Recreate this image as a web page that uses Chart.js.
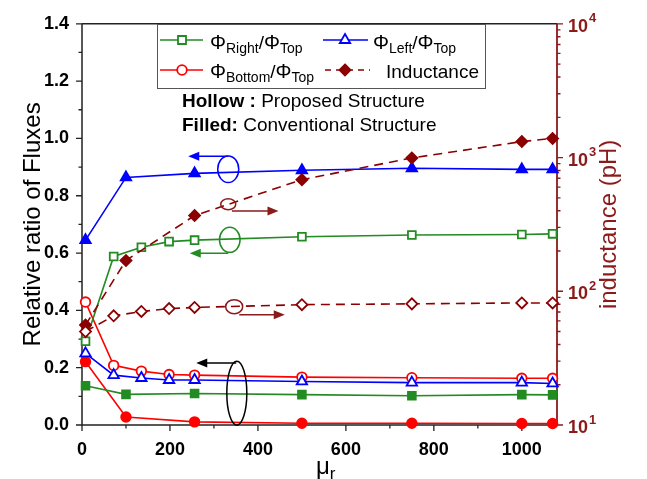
<!DOCTYPE html>
<html><head><meta charset="utf-8">
<script src="https://cdn.jsdelivr.net/npm/chart.js@4/dist/chart.umd.min.js"></script>
<style>html,body{margin:0;padding:0;background:#fff}#wrap{width:647px;height:479px}</style>
</head><body><div id="wrap"><canvas id="c" width="647" height="479"></canvas></div>
<script>
// ---- data ----
const muHollow = [8, 72, 135, 198, 256, 500, 750, 1000, 1070];
const muFilled = [8, 100, 256, 500, 750, 1000, 1070];
const rightTopHollow  = [0.292, 0.588, 0.620, 0.640, 0.645, 0.657, 0.663, 0.665, 0.667];
const leftTopHollow   = [0.250, 0.174, 0.164, 0.157, 0.157, 0.152, 0.148, 0.148, 0.145];
const bottomTopHollow = [0.429, 0.208, 0.188, 0.176, 0.174, 0.167, 0.165, 0.163, 0.163];
const inductanceHollow = [50, 65.5, 70.6, 74.2, 75.7, 79.4, 80.5, 81.8, 81.8];
const rightTopFilled  = [0.137, 0.107, 0.110, 0.106, 0.102, 0.106, 0.105];
const leftTopFilled   = [0.645, 0.864, 0.878, 0.889, 0.896, 0.892, 0.892];
const bottomTopFilled = [0.221, 0.028, 0.011, 0.006, 0.006, 0.005, 0.005];
const inductanceFilled = [56, 170, 368, 683, 993, 1316, 1390];
// ticks
const xTicks = [0, 200, 400, 600, 800, 1000];
const xMinor = [100, 300, 500, 700, 900];
const yTicks = [0, 0.2, 0.4, 0.6, 0.8, 1.0, 1.2, 1.4];
const yMinor = [0.1, 0.3, 0.5, 0.7, 0.9, 1.1, 1.3];
const y2Exponents = [1, 2, 3, 4];
const y2Minor = [20,30,40,50,60,70,80,90,200,300,400,500,600,700,800,900,2000,3000,4000,5000,6000,7000,8000,9000];

const GREEN = '#228B22', BLUE = '#0000FF', RED = '#FF0000', DRED = '#8B0000', AXRED = '#8B1A1A';
const FONT = "'Liberation Sans', Arial, sans-serif";

const pts = (xs, ys) => xs.map((x, i) => ({x, y: ys[i]}));
function ds(label, xs, ys, color, style, hollow, axis, dashed, r) {
  return {
    label, data: pts(xs, ys), yAxisID: axis, showLine: true,
    borderColor: color, backgroundColor: color, borderWidth: 1.6,
    borderDash: dashed ? [9, 6] : [],
    pointStyle: style, pointRadius: r, pointBorderWidth: 1.8,
    pointBorderColor: color, pointBackgroundColor: hollow ? '#fff' : color,
    clip: false, tension: 0
  };
}

const datasets = [
  ds('Inductance hollow', muHollow, inductanceHollow, DRED, 'rectRot', true, 'y2', true, 5.5),
  ds('Inductance filled', muFilled, inductanceFilled, DRED, 'rectRot', false, 'y2', true, 5.5),
  ds('Right/Top hollow', muHollow, rightTopHollow, GREEN, 'rect', true, 'y', false, 5.5),
  ds('Right/Top filled', muFilled, rightTopFilled, GREEN, 'rect', false, 'y', false, 5.5),
  ds('Left/Top hollow', muHollow, leftTopHollow, BLUE, 'triangle', true, 'y', false, 6),
  ds('Left/Top filled', muFilled, leftTopFilled, BLUE, 'triangle', false, 'y', false, 6),
  ds('Bottom/Top hollow', muHollow, bottomTopHollow, RED, 'circle', true, 'y', false, 4.8),
  ds('Bottom/Top filled', muFilled, bottomTopFilled, RED, 'circle', false, 'y', false, 4.8),
];

function arrow(ctx, x1, y, x2, color) {
  const dir = Math.sign(x2 - x1), hl = 11, hw = 4.5;
  ctx.strokeStyle = color; ctx.fillStyle = color; ctx.lineWidth = 1.5; ctx.setLineDash([]);
  ctx.beginPath(); ctx.moveTo(x1, y); ctx.lineTo(x2 - dir * hl * 0.6, y); ctx.stroke();
  ctx.beginPath(); ctx.moveTo(x2, y); ctx.lineTo(x2 - dir * hl, y - hw); ctx.lineTo(x2 - dir * hl, y + hw); ctx.closePath(); ctx.fill();
}
function ellipse(ctx, cx, cy, rx, ry, color) {
  ctx.strokeStyle = color; ctx.lineWidth = 1.5; ctx.setLineDash([]);
  ctx.beginPath(); ctx.ellipse(cx, cy, rx, ry, 0, 0, Math.PI * 2); ctx.stroke();
}
function rich(ctx, x, y, parts) {
  for (const [t, f, dy] of parts) { ctx.font = f; ctx.fillText(t, x, y + dy); x += ctx.measureText(t).width; }
}
function marker(ctx, style, x, y, color, hollow) {
  ctx.save(); ctx.setLineDash([]); ctx.lineWidth = 1.8; ctx.strokeStyle = color; ctx.fillStyle = hollow ? '#fff' : color;
  ctx.beginPath();
  if (style === 'rect') { ctx.rect(x - 4, y - 4, 8, 8); }
  else if (style === 'circle') { ctx.arc(x, y, 4.8, 0, Math.PI * 2); }
  else if (style === 'triangle') { ctx.moveTo(x, y - 6); ctx.lineTo(x + 5.2, y + 3); ctx.lineTo(x - 5.2, y + 3); ctx.closePath(); }
  else if (style === 'rectRot') { ctx.moveTo(x, y - 5.5); ctx.lineTo(x + 5.5, y); ctx.lineTo(x, y + 5.5); ctx.lineTo(x - 5.5, y); ctx.closePath(); }
  ctx.fill(); ctx.stroke(); ctx.restore();
}

// annotation callouts in data units (x: mu_r, y: left-axis ratio)
const callouts = [
  {c: BLUE,  ex: 332.5, ey: 0.8925, rx: 10.5, ry: 13.3, a1: 332.5, a2: 241.6, ay: 0.938},
  {c: AXRED, ex: 332.5, ey: 0.770,  rx: 7.5,  ry: 5.5,  a1: 340.9, a2: 446.8, ay: 0.747},
  {c: GREEN, ex: 336,   ey: 0.646,  rx: 10.3, ry: 12.5, a1: 332.5, a2: 245,   ay: 0.599},
  {c: AXRED, ex: 346,   ey: 0.413,  rx: 8.5,  ry: 7,    a1: 357.5, a2: 461,   ay: 0.385},
  {c: '#000', ex: 352,  ey: 0.111,  rx: 10,   ry: 32,   a1: 350.7, a2: 259.8, ay: 0.216},
];

const frame = {
  id: 'frame',
  beforeDatasetsDraw(chart) {
    const {ctx, chartArea: ca, scales: {x, y, y2}} = chart;
    ctx.save();
    ctx.lineWidth = 1.5; ctx.strokeStyle = '#222';
    ctx.beginPath();
    ctx.moveTo(ca.left, ca.top); ctx.lineTo(ca.right, ca.top);
    ctx.moveTo(ca.left, ca.top); ctx.lineTo(ca.left, ca.bottom); ctx.lineTo(ca.right, ca.bottom);
    ctx.stroke();
    // ticks
    ctx.lineWidth = 1.3;
    ctx.beginPath();
    xTicks.forEach(v => { const p = x.getPixelForValue(v); ctx.moveTo(p, ca.bottom); ctx.lineTo(p, ca.bottom + 6); });
    xMinor.forEach(v => { const p = x.getPixelForValue(v); ctx.moveTo(p, ca.bottom); ctx.lineTo(p, ca.bottom + 3.5); });
    yTicks.forEach(v => { const p = y.getPixelForValue(v); ctx.moveTo(ca.left, p); ctx.lineTo(ca.left - 6, p); });
    yMinor.forEach(v => { const p = y.getPixelForValue(v); ctx.moveTo(ca.left, p); ctx.lineTo(ca.left - 3.5, p); });
    ctx.stroke();
    ctx.strokeStyle = AXRED; ctx.lineWidth = 1.8;
    ctx.beginPath(); ctx.moveTo(ca.right, ca.top); ctx.lineTo(ca.right, ca.bottom); ctx.stroke();
    ctx.lineWidth = 1.3; ctx.beginPath();
    y2Exponents.forEach(e => { const p = y2.getPixelForValue(Math.pow(10, e)); ctx.moveTo(ca.right, p); ctx.lineTo(ca.right + 6, p); });
    y2Minor.forEach(v => { const p = y2.getPixelForValue(v); ctx.moveTo(ca.right, p); ctx.lineTo(ca.right + 3.5, p); });
    ctx.stroke();
    ctx.restore();
  },
  afterDraw(chart) {
    const {ctx, chartArea: ca, scales: {x, y, y2}} = chart;
    ctx.save();
    // right axis labels 10^n
    ctx.fillStyle = AXRED; ctx.textBaseline = 'middle'; ctx.textAlign = 'left';
    y2Exponents.forEach(e => {
      const p = y2.getPixelForValue(Math.pow(10, e));
      ctx.font = `bold 18px ${FONT}`; ctx.fillText('10', ca.right + 11, p + 3);
      const w = ctx.measureText('10').width;
      ctx.font = `bold 13px ${FONT}`; ctx.fillText(String(e), ca.right + 11 + w + 1, p - 5);
    });
    // axis titles
    ctx.textBaseline = 'middle'; ctx.textAlign = 'center';
    ctx.save(); ctx.translate(33, (ca.top + ca.bottom) / 2); ctx.rotate(-Math.PI / 2);
    ctx.fillStyle = '#000'; ctx.font = `24px ${FONT}`; ctx.fillText('Relative ratio of Fluxes', 0, 0); ctx.restore();
    ctx.save(); ctx.translate(609, (ca.top + ca.bottom) / 2); ctx.rotate(-Math.PI / 2);
    ctx.fillStyle = AXRED; ctx.font = `24px ${FONT}`; ctx.fillText('inductance (pH)', 0, 0); ctx.restore();
    ctx.textAlign = 'left'; ctx.textBaseline = 'alphabetic'; ctx.fillStyle = '#000';
    rich(ctx, 316, 474, [['\u03BC', `24px ${FONT}`, 0], ['r', `17px ${FONT}`, 5]]);
    // callouts
    callouts.forEach(o => {
      ellipse(ctx, x.getPixelForValue(o.ex), y.getPixelForValue(o.ey), o.rx, o.ry, o.c);
      arrow(ctx, x.getPixelForValue(o.a1), y.getPixelForValue(o.ay), x.getPixelForValue(o.a2), o.c);
    });
    // legend box
    ctx.strokeStyle = '#555'; ctx.lineWidth = 1; ctx.setLineDash([]);
    ctx.strokeRect(157.5, 24.5, 328, 64);
    const ly1 = 40, ly2 = 70;
    ctx.lineWidth = 1.6;
    ctx.strokeStyle = GREEN; ctx.beginPath(); ctx.moveTo(160, ly1); ctx.lineTo(203, ly1); ctx.stroke();
    marker(ctx, 'rect', 182, ly1, GREEN, true);
    ctx.strokeStyle = BLUE; ctx.beginPath(); ctx.moveTo(323, ly1); ctx.lineTo(368, ly1); ctx.stroke();
    marker(ctx, 'triangle', 345, ly1, BLUE, true);
    ctx.strokeStyle = RED; ctx.beginPath(); ctx.moveTo(160, ly2); ctx.lineTo(203, ly2); ctx.stroke();
    marker(ctx, 'circle', 182, ly2, RED, true);
    ctx.strokeStyle = DRED; ctx.setLineDash([6, 5]); ctx.beginPath(); ctx.moveTo(325, ly2); ctx.lineTo(370, ly2); ctx.stroke();
    ctx.setLineDash([]);
    marker(ctx, 'rectRot', 345, ly2, DRED, false);
    ctx.fillStyle = '#000';
    const big = `20px ${FONT}`, sub = `14px ${FONT}`, mid = `19px ${FONT}`;
    rich(ctx, 210, 49, [['\u03A6', big, 0], ['Right', sub, 4], ['/', mid, 0], ['\u03A6', big, 0], ['Top', sub, 4]]);
    rich(ctx, 373, 49, [['\u03A6', big, 0], ['Left', sub, 4], ['/', mid, 0], ['\u03A6', big, 0], ['Top', sub, 4]]);
    rich(ctx, 210, 78, [['\u03A6', big, 0], ['Bottom', sub, 4], ['/', mid, 0], ['\u03A6', big, 0], ['Top', sub, 4]]);
    rich(ctx, 386, 77.5, [['Inductance', `19px ${FONT}`, 0]]);
    rich(ctx, 182, 107, [['Hollow :', `bold 19px ${FONT}`, 0], [' Proposed Structure', `19px ${FONT}`, 0]]);
    rich(ctx, 182, 131, [['Filled:', `bold 19px ${FONT}`, 0], [' Conventional Structure', `19px ${FONT}`, 0]]);
    ctx.restore();
  }
};

new Chart(document.getElementById('c'), {
  type: 'scatter',
  data: {datasets},
  options: {
    responsive: false, animation: false, devicePixelRatio: 1,
    layout: {padding: {top: 14.5, left: 0, right: 0, bottom: 0}},
    plugins: {legend: {display: false}, tooltip: {enabled: false}},
    scales: {
      x: {
        type: 'linear', position: 'bottom', min: 0, max: 1080,
        afterBuildTicks: s => { s.ticks = xTicks.map(v => ({value: v})); },
        afterFit: s => { s.height = 54; },
        grid: {display: false, drawTicks: false}, border: {display: false},
        ticks: {color: '#000', font: {family: FONT, size: 18, weight: 'bold'}, padding: 14, maxRotation: 0, autoSkip: false, callback: v => String(v)}
      },
      y: {
        type: 'linear', position: 'left', min: 0, max: 1.4,
        afterBuildTicks: s => { s.ticks = yTicks.map(v => ({value: v})); },
        afterFit: s => { s.width = 82; },
        grid: {display: false, drawTicks: false}, border: {display: false},
        ticks: {color: '#000', font: {family: FONT, size: 18, weight: 'bold'}, padding: 13, autoSkip: false, callback: v => Number(v).toFixed(1)}
      },
      y2: {
        type: 'logarithmic', position: 'right', min: 10, max: 10000,
        afterBuildTicks: s => { s.ticks = y2Exponents.map(e => ({value: Math.pow(10, e)})); },
        afterFit: s => { s.width = 90; },
        grid: {display: false, drawTicks: false}, border: {display: false},
        ticks: {display: false}
      }
    }
  },
  plugins: [frame]
});
</script>
</body></html>
